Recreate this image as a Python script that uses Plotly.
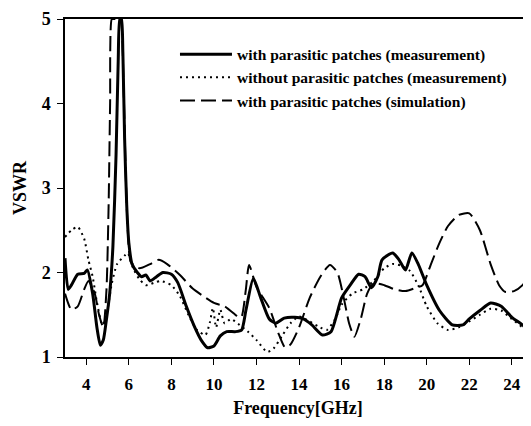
import plotly.graph_objects as go

# with parasitic patches (measurement)
f_meas = [3.0,3.15,3.3,3.6,3.9,4.05,4.3,4.5,4.66,4.8,4.95,5.1,5.25,5.4,5.5,5.58,5.65,5.72,5.8,5.9,6.0,6.15,6.4,6.6,6.8,7.0,7.3,7.6,8.0,8.3,8.7,9.1,9.4,9.7,10.0,10.3,10.6,11.0,11.3,11.5,11.85,12.2,12.6,12.9,13.3,13.8,14.2,14.6,15.1,15.5,16.0,16.4,16.8,17.1,17.4,17.7,17.9,18.4,18.7,19.0,19.3,19.6,20.0,20.6,21.2,21.7,22.0,22.5,23.0,23.5,24.0,24.5,24.9]
vswr_meas = [2.17,1.8,1.85,1.98,1.99,2.03,1.75,1.35,1.14,1.2,1.45,1.75,2.3,3.4,4.5,5.0,5.0,4.6,3.6,2.8,2.35,2.1,2.0,1.95,1.97,1.9,1.95,2.0,1.98,1.88,1.6,1.35,1.2,1.11,1.13,1.25,1.3,1.3,1.32,1.55,1.93,1.7,1.45,1.4,1.46,1.47,1.45,1.38,1.26,1.3,1.7,1.85,1.98,1.95,1.82,1.95,2.15,2.23,2.15,2.03,2.23,2.1,1.85,1.55,1.38,1.38,1.45,1.55,1.64,1.6,1.47,1.38,1.28]

# without parasitic patches (measurement)
f_nop = [3.0,3.3,3.6,3.9,4.1,4.3,4.5,4.75,4.95,5.2,5.45,5.8,5.95,6.2,6.5,6.8,7.2,7.5,8.0,8.4,8.8,9.2,9.6,9.8,9.95,10.1,10.3,10.5,10.8,11.2,11.6,12.0,12.5,12.8,13.2,13.6,14.0,14.5,15.0,15.3,15.7,16.0,16.5,17.0,17.5,18.0,18.4,18.8,19.2,19.6,20.0,20.5,21.0,21.5,22.0,22.5,23.0,23.5,24.0,24.5,24.9]
vswr_nop = [2.42,2.5,2.54,2.4,2.15,1.95,1.65,1.38,1.5,1.87,2.1,2.2,2.23,2.05,1.92,1.85,1.88,1.9,1.85,1.72,1.5,1.32,1.26,1.4,1.58,1.35,1.56,1.4,1.45,1.38,1.3,1.2,1.06,1.1,1.25,1.4,1.48,1.42,1.35,1.32,1.45,1.62,1.75,1.8,1.9,2.05,2.1,2.08,2.02,1.85,1.6,1.4,1.32,1.35,1.42,1.5,1.57,1.55,1.45,1.35,1.25]

# with parasitic patches (simulation)
f_sim = [3.0,3.3,3.6,3.9,4.1,4.4,4.6,4.8,4.95,5.05,5.12,5.2,5.3,5.45,5.6,5.75,5.85,5.95,6.1,6.5,7.0,7.4,7.8,8.4,9.0,9.5,10.0,10.5,11.0,11.15,11.3,11.5,11.65,12.0,12.6,13.0,13.35,13.6,14.0,14.5,15.0,15.45,15.8,16.1,16.35,16.6,16.9,17.2,17.5,18.0,18.5,19.0,19.5,19.8,20.2,20.6,21.0,21.5,22.0,22.5,23.0,23.4,23.7,24.1,24.5,24.9]
vswr_sim = [1.75,1.56,1.6,1.8,1.9,1.75,1.5,1.35,1.8,2.8,4.0,5.0,5.0,5.0,5.0,4.2,3.2,2.5,2.12,2.05,2.1,2.15,2.1,1.97,1.81,1.72,1.64,1.6,1.5,1.47,1.48,1.8,2.09,1.83,1.58,1.3,1.11,1.15,1.35,1.7,1.95,2.09,2.0,1.7,1.4,1.24,1.45,1.75,1.87,1.85,1.8,1.78,1.82,1.85,2.1,2.35,2.55,2.68,2.70,2.5,2.1,1.85,1.77,1.78,1.85,2.0]

x_ticks = [4, 6, 8, 10, 12, 14, 16, 18, 20, 22, 24]
y_ticks = [1, 2, 3, 4, 5]

font_family = "Liberation Serif"

fig = go.Figure()
fig.add_trace(go.Scatter(x=f_meas, y=vswr_meas, mode="lines",
                         name="<b>with parasitic patches (measurement)</b>",
                         line=dict(color="black", width=3, shape="spline", smoothing=0.6)))
fig.add_trace(go.Scatter(x=f_nop, y=vswr_nop, mode="lines",
                         name="<b>without parasitic patches (measurement)</b>",
                         line=dict(color="black", width=2, dash="2px,4px", shape="spline", smoothing=0.6)))
fig.add_trace(go.Scatter(x=f_sim, y=vswr_sim, mode="lines",
                         name="<b>with parasitic patches (simulation)</b>",
                         line=dict(color="black", width=2, dash="15px,6px", shape="spline", smoothing=0.6)))

fig.update_layout(
    width=523, height=418,
    margin=dict(l=57, r=0, t=11, b=69, pad=0),
    paper_bgcolor="white", plot_bgcolor="white",
    font=dict(family=font_family, color="black", size=17),
    showlegend=True,
    legend=dict(x=0.236, y=0.945, xanchor="left", yanchor="top",
                bgcolor="rgba(0,0,0,0)", font=dict(size=15.5, family=font_family),
                tracegroupgap=0, itemwidth=52),
    xaxis=dict(range=[3, 24.9], tickvals=x_ticks, ticktext=[f"<b>{t}</b>" for t in x_ticks],
               showline=True, linecolor="black", linewidth=1.5, mirror=True,
               ticks="outside", ticklen=6, tickcolor="black", showgrid=False, zeroline=False,
               tickfont=dict(size=17), ticklabelstandoff=5,
               title=dict(text="<b>Frequency[GHz]</b>", font=dict(size=18), standoff=8)),
    yaxis=dict(range=[1, 5], tickvals=y_ticks, ticktext=[f"<b>{t}</b>" for t in y_ticks],
               showline=True, linecolor="black", linewidth=1.5,
               ticks="outside", ticklen=6, tickcolor="black", showgrid=False, zeroline=False,
               tickfont=dict(size=18), ticklabelstandoff=3,
               title=dict(text="<b>VSWR</b>", font=dict(size=18), standoff=10)),
)

fig.write_html("out.html")
